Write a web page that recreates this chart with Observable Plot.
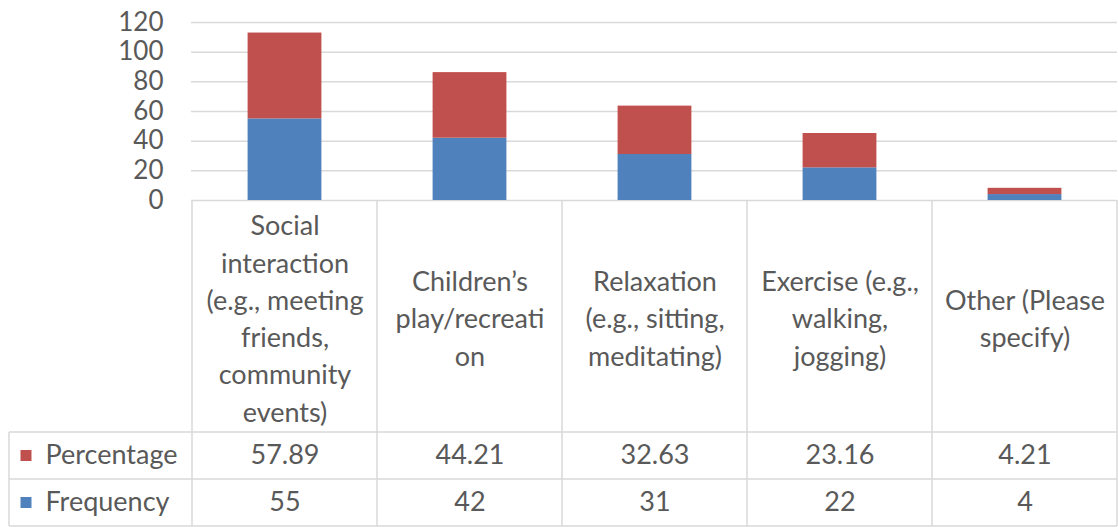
<!DOCTYPE html>
<html>
<head>
<meta charset="utf-8">
<script src="https://cdn.jsdelivr.net/npm/d3@7"></script>
<script src="https://cdn.jsdelivr.net/npm/@observablehq/plot@0.6"></script>
<style>
  html, body { margin: 0; padding: 0; background: #ffffff; }
</style>
</head>
<body>
<div id="chart"></div>
<script>
// Activity categories (wrapped the way they appear in the data-table header)
const categories = [
  "Social\ninteraction\n(e.g., meeting\nfriends,\ncommunity\nevents)",
  "Children\u2019s\nplay/recreati\non",
  "Relaxation\n(e.g., sitting,\nmeditating)",
  "Exercise (e.g.,\nwalking,\njogging)",
  "Other (Please\nspecify)"
];
const seriesNames = ["Percentage", "Frequency"];
const percentage = [57.89, 44.21, 32.63, 23.16, 4.21];
const frequency = [55, 42, 31, 22, 4];
const percentageLabels = ["57.89", "44.21", "32.63", "23.16", "4.21"];
const frequencyLabels = ["55", "42", "31", "22", "4"];
const yTicks = [0, 20, 40, 60, 80, 100, 120];

// Long table for the stacked bars: Frequency at the bottom, Percentage on top
const rows = categories.flatMap((c, i) => [
  {category: c, series: "Frequency", value: frequency[i]},
  {category: c, series: "Percentage", value: percentage[i]}
]);

const W = 1118, H = 527;
const mL = 191, mR = 1, mT = 22, mB = 327;
const gridColor = "#d9d9d9";
const textColor = "#595959";
const fontFamily = "Lato, 'Noto Sans', sans-serif";

// table geometry, measured down from the x baseline
const tableLeft = 9;
const headerMid = 116, pctMid = 255, freqMid = 302;
const rowLines = [232, 279, 326];

const textCommon = {fill: textColor, lineAnchor: "middle", fontSize: 27};

const plot = Plot.plot({
  width: W,
  height: H,
  marginLeft: mL,
  marginRight: mR,
  marginTop: mT,
  marginBottom: mB,
  style: {fontFamily, fontSize: "26px", color: textColor, background: "#ffffff"},
  x: {domain: categories, padding: 0, axis: null},
  y: {domain: [0, 120], ticks: yTicks, tickSize: 0, tickPadding: 28, label: null, tickFormat: d => String(d)},
  color: {domain: seriesNames, range: ["#C0504D", "#4F81BD"]},
  marks: [
    Plot.gridY(yTicks, {stroke: gridColor, strokeOpacity: 1, strokeWidth: 1.5}),
    Plot.barY(rows, {
      x: "category", y: "value", z: "series", fill: "series",
      order: ["Frequency", "Percentage"],
      insetLeft: 55.6, insetRight: 55.6
    }),
    // table header: category names
    Plot.text(categories, {
      ...textCommon, x: d => d, text: d => d, frameAnchor: "bottom", dy: headerMid, lineHeight: 1.38
    }),
    // table rows: values
    Plot.text(categories, {
      ...textCommon, x: d => d, text: (d, i) => percentageLabels[i], frameAnchor: "bottom", dy: pctMid
    }),
    Plot.text(categories, {
      ...textCommon, x: d => d, text: (d, i) => frequencyLabels[i], frameAnchor: "bottom", dy: freqMid
    }),
    // row headers with legend keys
    Plot.text(["Percentage"], {
      ...textCommon, text: d => d, frameAnchor: "bottom-left", dx: -146, dy: pctMid, textAnchor: "start"
    }),
    Plot.text(["Frequency"], {
      ...textCommon, text: d => d, frameAnchor: "bottom-left", dx: -146, dy: freqMid, textAnchor: "start"
    }),
    Plot.dot(["Percentage"], {
      frameAnchor: "bottom-left", dx: -165.5, dy: pctMid,
      symbol: "square", r: 6.2, fill: d => d, stroke: null
    }),
    Plot.dot(["Frequency"], {
      frameAnchor: "bottom-left", dx: -165.5, dy: freqMid,
      symbol: "square", r: 6.2, fill: d => d, stroke: null
    })
  ]
});

// Data-table grid lines, placed from the plot's own x band scale
const x = plot.scale("x");
const baseY = H - mB;
const xEdges = categories.map(c => x.apply(c)).concat([x.apply(categories[categories.length - 1]) + x.bandwidth]);
const g = d3.select(plot).append("g")
  .attr("stroke", gridColor)
  .attr("stroke-width", 1.5)
  .attr("fill", "none");
g.selectAll("line.col")
  .data(xEdges)
  .join("line")
  .attr("x1", d => d).attr("x2", d => d)
  .attr("y1", baseY).attr("y2", baseY + rowLines[2]);
g.selectAll("line.row")
  .data(rowLines)
  .join("line")
  .attr("x1", tableLeft).attr("x2", xEdges[xEdges.length - 1])
  .attr("y1", d => baseY + d).attr("y2", d => baseY + d);
g.append("line")
  .attr("x1", tableLeft).attr("x2", tableLeft)
  .attr("y1", baseY + rowLines[0]).attr("y2", baseY + rowLines[2]);

document.getElementById("chart").appendChild(plot);
</script>
</body>
</html>
